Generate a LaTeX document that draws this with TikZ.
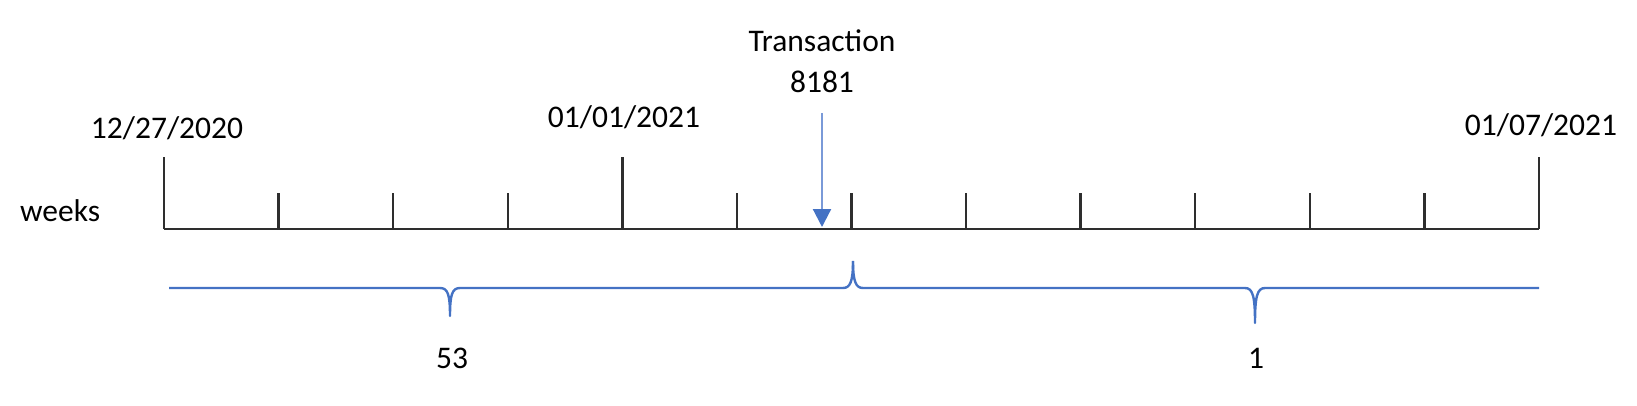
\documentclass[tikz,border=0pt]{standalone}
\usepackage{fontspec}
\setmainfont{Carlito}
\usepackage{xcolor}
\usepackage{tikz}
\usetikzlibrary{arrows.meta}
\definecolor{tlblue}{HTML}{4472C4}
\definecolor{shaftblue}{HTML}{7A9AD8}
\colorlet{axisgray}{black!82}
\newcommand\lblfont{\fontsize{31.5}{38}\selectfont}
\tikzstyle{lbl}=[font=\lblfont,inner sep=0pt,anchor=base]
\tikzstyle{axis}=[line width=2.4pt,axisgray]
\tikzstyle{brc}=[line width=2.4pt,tlblue,line join=round]
\tikzstyle{arr}=[line width=2.2pt,shaftblue,-{Triangle[length=18pt,width=18pt,color=tlblue,fill=tlblue]}]

\begin{document}
\begin{tikzpicture}[x=1pt,y=-1pt]
	\useasboundingbox (0,0) rectangle (1637,406);
	% ticks
	\foreach \i in {0,...,12} {
	  \coordinate (t\i) at ({164+\i*114.58},229);
	}
	\draw[axis] (t0) -- (t12);
	\foreach \i in {1,2,3,5,6,7,8,9,10,11} {
	  \draw[axis] (t\i) -- ++(0,-36);
	}
	\foreach \i in {0,4,12} {
	  \draw[axis] (t\i) -- ++(0,-72);
	}
	% labels
	\node[lbl] (d0) at (167,139) {12/27/2020};
	\node[lbl] (d1) at (624,128) {01/01/2021};
	\node[lbl] (d2) at (1541,136) {01/07/2021};
	\node[lbl,anchor=base west] (wk) at (20,222) {weeks};
	\node[lbl] (trns) at (822,52) {Transaction};
	\node[lbl] (tnum) at (822,93) {8181};
	\coordinate (hit) at (822,227);
	\draw[arr] ([yshift=-20pt]tnum.base) -- (hit);
	% braces
	\coordinate (b0) at (169,288);
	\coordinate (tip1) at (450,316);
	\coordinate (mid) at (853,261);
	\coordinate (tip2) at (1255,323);
	\coordinate (b1) at (1539,288);
	\draw[brc] (b0) -- (440,288) .. controls (448,288) and (450,295) .. (tip1)
	  .. controls (450,295) and (452,288) .. (460,288) -- (843,288)
	  .. controls (850,288) and (853,282) .. (mid);
	\draw[brc] (mid) .. controls (853,282) and (856,288) .. (863,288) -- (1245,288)
	  .. controls (1253,288) and (1255,297) .. (tip2)
	  .. controls (1255,297) and (1257,288) .. (1265,288) -- (b1);
	\node[lbl] (w53) at (452,368) {53};
	\node[lbl] (w1) at (1256,368) {1};
\end{tikzpicture}
\end{document}
